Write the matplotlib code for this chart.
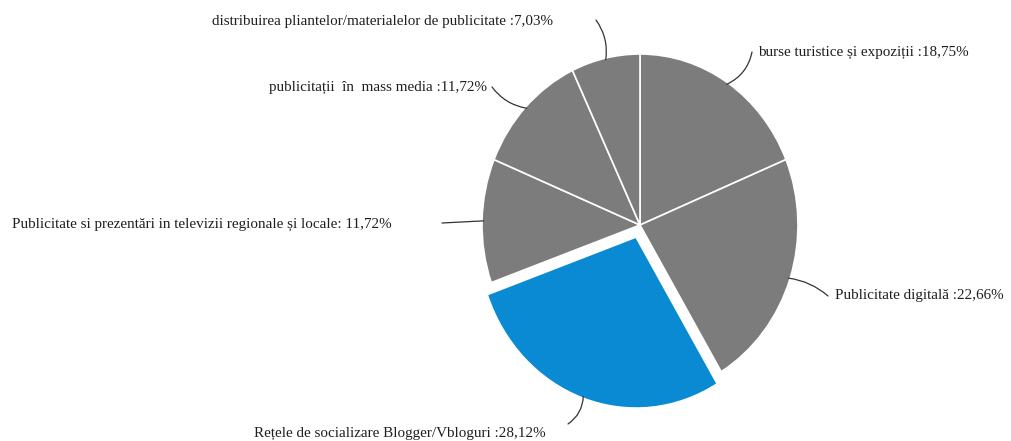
import numpy as np
import matplotlib
matplotlib.use("Agg")
import matplotlib.pyplot as plt

plt.rcParams["font.family"] = ["Liberation Serif", "DejaVu Serif"]

categories = [
    "burse turistice și expoziții",
    "Publicitate digitală",
    "Rețele de socializare Blogger/Vbloguri",
    "Publicitate si prezentări in televizii regionale și locale",
    "publicitații  în  mass media",
    "distribuirea pliantelor/materialelor de publicitate",
]
shares = [18.75, 22.66, 28.12, 11.72, 11.72, 7.03]
label_texts = [
    "burse turistice și expoziții :18,75%",
    "Publicitate digitală :22,66%",
    "Rețele de socializare Blogger/Vbloguri :28,12%",
    "Publicitate si prezentări in televizii regionale și locale: 11,72%",
    "publicitații  în  mass media :11,72%",
    "distribuirea pliantelor/materialelor de publicitate :7,03%",
]
highlight = 2

W, H = 1011, 441
GRAY = "#7c7c7c"
BLUE = "#0a8ad2"

# where each label and its leader end sit, in pixels from top-left
# (leader_end_x, leader_end_y, text_x, text_y, ha, curve)
label_layout = [
    (752, 52, 758, 52, "left", -0.25),
    (828, 296, 835, 296, "left", 0.15),
    (568, 424, 546, 433, "right", 0.25),
    (442, 223, 392, 224, "right", 0.0),
    (492, 87, 487, 87, "right", 0.2),
    (596, 20, 553, 22, "right", -0.2),
]

fig = plt.figure(figsize=(W / 100, H / 100), dpi=100)
fig.patch.set_facecolor("white")

# pie is slightly taller than wide
cx, cy, rx, ry = 640, 225, 158, 171
ax = fig.add_axes([(cx - rx) / W, (H - cy - ry) / H, 2 * rx / W, 2 * ry / H])

colors = [BLUE if i == highlight else GRAY for i in range(len(shares))]
explode = [0.075 if i == highlight else 0 for i in range(len(shares))]
wedges, _ = ax.pie(
    shares,
    colors=colors,
    explode=explode,
    startangle=90,
    counterclock=False,
    radius=1,
    wedgeprops=dict(edgecolor="white", linewidth=1.2),
)
ax.set_aspect("auto")
ax.set_xlim(-1, 1)
ax.set_ylim(-1, 1)
ax.axis("off")

bounds = np.concatenate([[0], np.cumsum(shares)]) / 100 * 360
for i, w in enumerate(wedges):
    mid = np.deg2rad((bounds[i] + bounds[i + 1]) / 2)
    off = explode[i]
    r = 0.99 + off
    px, py = r * np.sin(mid), r * np.cos(mid)
    lx, ly, tx, ty, ha, rad = label_layout[i]
    ax.annotate(
        "",
        xy=(px, py),
        xytext=(lx / W, 1 - ly / H),
        textcoords="figure fraction",
        annotation_clip=False,
        arrowprops=dict(arrowstyle="-", color="#333333", lw=0.9,
                        shrinkA=0, shrinkB=0,
                        connectionstyle=f"arc3,rad={rad}"),
    )
    fig.text(tx / W, 1 - ty / H, label_texts[i], ha=ha, va="center",
             fontsize=10.9, color="#1e1e1e")

fig.savefig("out.png", dpi=100, facecolor="white")
